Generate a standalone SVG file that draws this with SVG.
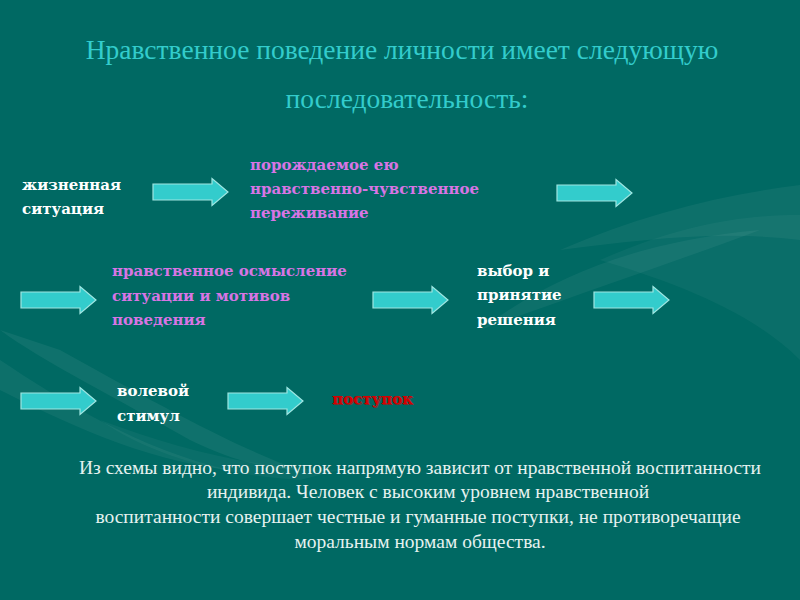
<svg xmlns="http://www.w3.org/2000/svg" width="800" height="600" viewBox="0 0 800 600">
<defs>
<style>
.title{font-family:"Liberation Serif","DejaVu Serif",serif;font-size:27.5px;fill:#33cccc;text-anchor:middle}
.w{font-family:"DejaVu Serif","Liberation Serif",serif;font-weight:bold;font-size:15px;fill:#ffffff}
.p{font-family:"DejaVu Serif","Liberation Serif",serif;font-weight:bold;font-size:15px;fill:#d775e4}
.r{font-family:"DejaVu Serif","Liberation Serif",serif;font-weight:bold;font-size:15px;fill:#d40000}
.para{font-family:"Liberation Serif","DejaVu Serif",serif;font-size:19.5px;fill:#e6f2f0;text-anchor:middle}
.arrow{fill:#33cccc;stroke:#9fe6e2;stroke-width:1.2}
</style>
<path id="arr" d="M0,-8 H59 V-13.5 L75,0 L59,13.5 V8 H0 Z"/>
</defs>
<rect width="800" height="600" fill="#006963"/>
<g id="background" fill="#ffffff">
<path d="M560,250 C640,215 720,195 800,185 L800,240 C720,230 640,240 560,250 Z" opacity="0.05"/>
<path d="M600,260 C680,225 740,215 800,215 L800,360 C760,320 700,290 600,260 Z" opacity="0.04"/>
<path d="M480,330 C560,270 650,240 760,230 C680,260 590,290 480,330 Z" opacity="0.05"/>
<path d="M0,330 C40,360 120,400 190,440 C230,460 270,470 300,470 C240,450 150,400 60,350 Z" opacity="0.06"/>
<path d="M0,360 C60,400 140,450 230,470 C140,460 60,420 0,390 Z" opacity="0.05"/>
<path d="M100,420 C180,450 260,470 340,470 L300,480 C220,475 150,455 100,420 Z" opacity="0.04"/>
</g>
<g id="title">
<text class="title" x="402" y="59">Нравственное поведение личности имеет следующую</text>
<text class="title" x="407" y="108">последовательность:</text>
</g>
<g id="connectors">
<use href="#arr" class="arrow" transform="translate(153,192)"/>
<use href="#arr" class="arrow" transform="translate(557,193)"/>
<use href="#arr" class="arrow" transform="translate(21,300)"/>
<use href="#arr" class="arrow" transform="translate(373,300)"/>
<use href="#arr" class="arrow" transform="translate(594,300)"/>
<use href="#arr" class="arrow" transform="translate(21,401)"/>
<use href="#arr" class="arrow" transform="translate(228,401)"/>
</g>
<g id="node-situation">
<text class="w" x="22" y="190">жизненная</text>
<text class="w" x="22" y="214">ситуация</text>
</g>
<g id="node-experience">
<text class="p" x="250" y="170">порождаемое ею</text>
<text class="p" x="250" y="194">нравственно-чувственное</text>
<text class="p" x="250" y="218">переживание</text>
</g>
<g id="node-reflection">
<text class="p" x="112" y="276">нравственное осмысление</text>
<text class="p" x="112" y="301">ситуации и мотивов</text>
<text class="p" x="112" y="325">поведения</text>
</g>
<g id="node-decision">
<text class="w" x="477" y="276">выбор и</text>
<text class="w" x="477" y="300">принятие</text>
<text class="w" x="477" y="325">решения</text>
</g>
<g id="node-stimulus">
<text class="w" x="117" y="396">волевой</text>
<text class="w" x="117" y="421">стимул</text>
</g>
<g id="node-act">
<text class="r" x="333" y="405" fill="#5a0000" opacity="0.6">поступок</text>
<text class="r" x="332" y="404">поступок</text>
</g>
<g id="conclusion">
<text class="para" x="420" y="474">Из схемы видно, что поступок напрямую зависит от нравственной воспитанности</text>
<text class="para" x="428" y="498">индивида. Человек с высоким уровнем нравственной</text>
<text class="para" x="418" y="523">воспитанности совершает честные и гуманные поступки, не противоречащие</text>
<text class="para" x="420" y="548">моральным нормам общества.</text>
</g>
</svg>
